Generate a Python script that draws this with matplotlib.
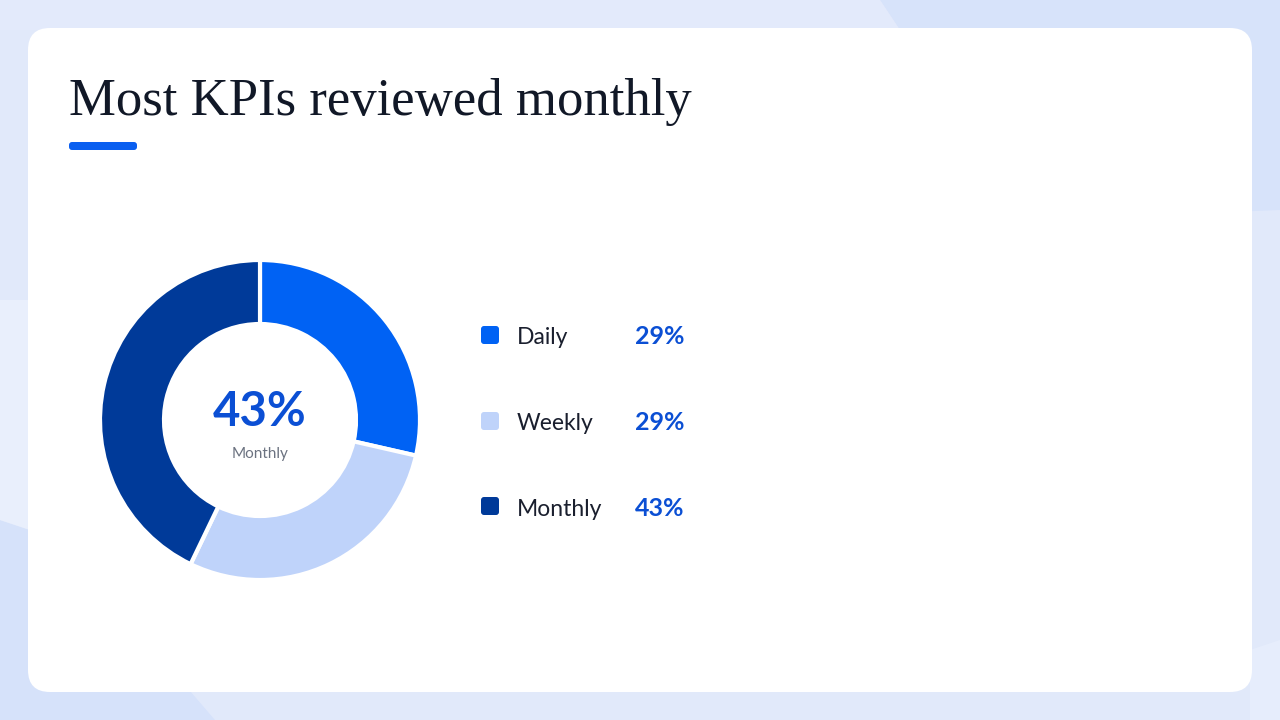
import matplotlib.pyplot as plt
from matplotlib.patches import FancyBboxPatch, Polygon

# data
labels = ['Daily', 'Weekly', 'Monthly']
counts = [2, 2, 3]
pct_labels = ['29%', '29%', '43%']
colors = ['#0062f4', '#bfd3fa', '#003a99']
title = 'Most KPIs reviewed monthly'
center_value = '43%'
center_label = 'Monthly'

fig = plt.figure(figsize=(12.8, 7.2), dpi=100)
fig.patch.set_facecolor('#e1e9fa')

# full-figure pixel axis for background + card + text
bg = fig.add_axes([0, 0, 1, 1])
bg.set_xlim(0, 1280)
bg.set_ylim(720, 0)
bg.axis('off')

# soft background shapes
bg.add_patch(Polygon([(880, 0), (1280, 0), (1280, 210), (1230, 212), (900, 30)],
                     closed=True, color='#d7e3fa', lw=0, zorder=0))
bg.add_patch(Polygon([(0, 0), (880, 0), (900, 30), (0, 30)],
                     closed=True, color='#e3eafb', lw=0, zorder=0))
bg.add_patch(Polygon([(0, 520), (60, 540), (215, 720), (0, 720)],
                     closed=True, color='#d6e2fa', lw=0, zorder=0))
bg.add_patch(Polygon([(0, 300), (30, 300), (30, 530), (0, 520)],
                     closed=True, color='#e9effc', lw=0, zorder=0))
bg.add_patch(Polygon([(1280, 640), (1250, 650), (1250, 720), (1280, 720)],
                     closed=True, color='#e6edfc', lw=0, zorder=0))

# card
card = FancyBboxPatch((28 + 22, 28 + 22), 1224 - 44, 664 - 44,
                      boxstyle='round,pad=22', fc='white', ec='none', zorder=1)
bg.add_patch(card)

# title and accent bar
bg.text(69, 115, title, fontsize=38, family='Liberation Serif',
        color='#111827', ha='left', va='baseline', zorder=2)
bar = FancyBboxPatch((72, 145), 62, 2, boxstyle='round,pad=3',
                     fc='#0a5ff0', ec='none', zorder=2)
bg.add_patch(bar)

# legend
rows_y = [335, 421, 506]
for lab, pct, col, y in zip(labels, pct_labels, colors, rows_y):
    sq = FancyBboxPatch((484, y - 6), 12, 12, boxstyle='round,pad=3',
                        fc=col, ec='none', zorder=2)
    bg.add_patch(sq)
    bg.text(517, y + 3, lab, fontsize=16.5, family='Lato', color='#1a1f2e',
            ha='left', va='center', zorder=2)
    bg.text(684, y + 2, pct, fontsize=18, family='Lato', fontweight='bold',
            color='#0b4fd4', ha='right', va='center', zorder=2)

# donut chart
ax = fig.add_axes([100 / 1280, (720 - 580) / 720, 320 / 1280, 320 / 720])
ax.pie(counts, colors=colors, startangle=90, counterclock=False, radius=1,
       wedgeprops=dict(width=0.4, edgecolor='white', linewidth=3))
ax.set_xlim(-1.0, 1.0)
ax.set_ylim(-1.0, 1.0)
ax.set_aspect('equal')
ax.axis('off')

ax.text(0, 0.05, center_value, fontsize=34, family='Lato', fontweight='bold',
        color='#0b4fd4', ha='center', va='center')
ax.text(0, -0.21, center_label, fontsize=11, family='Lato',
        color='#6b7280', ha='center', va='center')

fig.savefig('out.png', dpi=100)
